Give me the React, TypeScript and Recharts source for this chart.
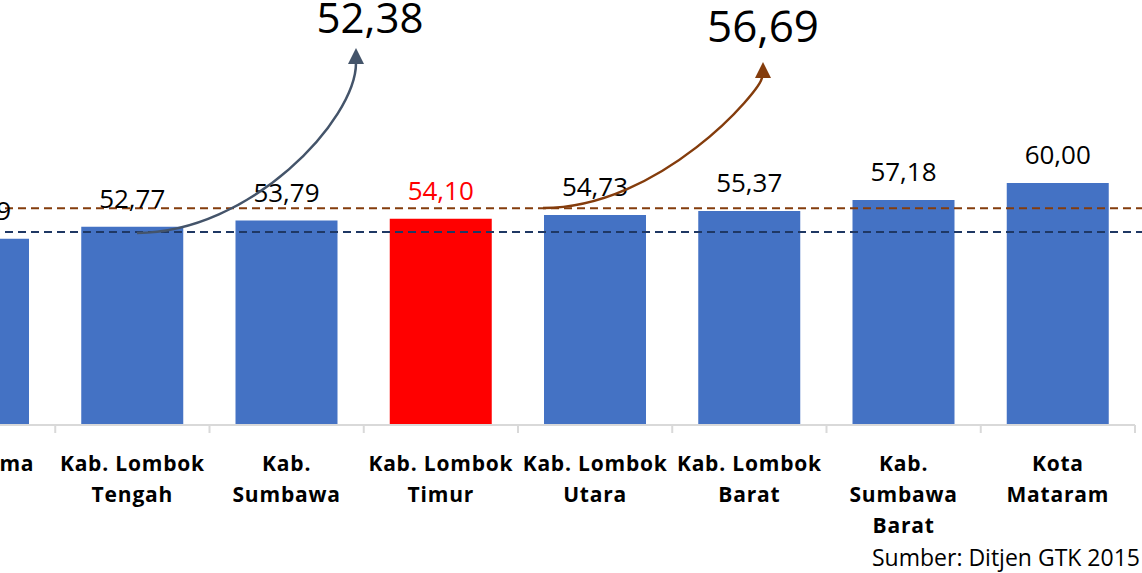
import React from 'react';
import { BarChart, Bar, XAxis, YAxis, Cell, LabelList, ReferenceLine } from 'recharts';

const categories = [
  'Kab. Bima',
  'Kab. Lombok\nTengah',
  'Kab.\nSumbawa',
  'Kab. Lombok\nTimur',
  'Kab. Lombok\nUtara',
  'Kab. Lombok\nBarat',
  'Kab.\nSumbawa\nBarat',
  'Kota\nMataram',
];
const values = [50.79, 52.77, 53.79, 54.1, 54.73, 55.37, 57.18, 60.0];
const highlightCategory = 'Kab. Lombok\nTimur';
const guideValues = [51.9, 55.82];
const guideColors = ['#1f3864', '#843c0c'];
const guideLabels = ['52,38', '56,69'];
const sourceText = 'Sumber: Ditjen GTK 2015';

const data = categories.map((name, i) => ({ name, value: values[i] }));

const FONT = '"Open Sans", "Noto Sans", sans-serif';
const fmt = (v: number) => v.toFixed(2).replace('.', ',');

const CHART_W = 1241;
const MARGIN = { top: 183, right: 7, bottom: 28, left: 0 };
const SLOT = (CHART_W - MARGIN.left - MARGIN.right) / categories.length;

const CategoryTick = (props: any) => {
  const { x, y, payload, index } = props;
  const lines = String(payload.value).split('\n');
  const axisY = y - 10;
  const isLast = index === categories.length - 1;
  return (
    <g>
      <line x1={x - SLOT / 2} x2={x - SLOT / 2} y1={axisY} y2={axisY + 8} stroke="#d9d9d9" strokeWidth={2} />
      {isLast && (
        <line x1={x + SLOT / 2} x2={x + SLOT / 2} y1={axisY} y2={axisY + 8} stroke="#d9d9d9" strokeWidth={2} />
      )}
      {lines.map((ln: string, i: number) => (
        <text
          key={i}
          x={x}
          y={y + 36 + i * 31}
          textAnchor="middle"
          fontFamily={FONT}
          fontWeight={700}
          fontSize={21}
          letterSpacing={0.8}
          fill="#000"
        >
          {ln}
        </text>
      ))}
    </g>
  );
};

const ValueLabel = (props: any) => {
  const { x, y, width, value, index } = props;
  const red = categories[index] === highlightCategory;
  return (
    <text
      x={x + width / 2}
      y={y - 19}
      textAnchor="middle"
      fontFamily={FONT}
      fontSize={26}
      fill={red ? '#ff0000' : '#000'}
    >
      {fmt(value)}
    </text>
  );
};

const dashedShape = (color: string) => (p: any) => (
  <line
    x1={p.x1}
    x2={p.x2 + 10}
    y1={p.y1}
    y2={p.y2}
    stroke={color}
    strokeWidth={2}
    strokeDasharray="8 5"
  />
);

export default function App() {
  return (
    <div
      style={{
        position: 'absolute',
        left: 0,
        top: 0,
        width: 1142,
        height: 573,
        overflow: 'hidden',
        background: '#fff',
      }}
    >
      <div style={{ position: 'absolute', left: -99, top: 0 }}>
        <BarChart width={CHART_W} height={573} data={data} margin={MARGIN}>
          <YAxis hide domain={[20, 60]} allowDataOverflow />
          <XAxis
            dataKey="name"
            height={120}
            interval={0}
            tickLine={false}
            tickSize={8}
            tickMargin={2}
            axisLine={{ stroke: '#d9d9d9', strokeWidth: 2 }}
            tick={<CategoryTick />}
          />
          {guideValues.map((v, i) => (
            <ReferenceLine key={i} y={v} shape={dashedShape(guideColors[i])} />
          ))}
          <Bar dataKey="value" barSize={102} isAnimationActive={false}>
            {data.map((d, i) => (
              <Cell key={i} fill={d.name === highlightCategory ? '#ff0000' : '#4472c4'} />
            ))}
            <LabelList dataKey="value" content={<ValueLabel />} />
          </Bar>
        </BarChart>
      </div>
      <svg
        width={1142}
        height={573}
        style={{ position: 'absolute', left: 0, top: 0, pointerEvents: 'none' }}
      >
        <path d="M137,233 C250,233 356,120 356,63" fill="none" stroke="#44546a" strokeWidth={2.5} />
        <polygon points="356,48 348,64 364,64" fill="#44546a" />
        <path d="M543,208 C660,208 762,90 762,77" fill="none" stroke="#843c0c" strokeWidth={2.5} />
        <polygon points="763,62 755,78 771,78" fill="#843c0c" />
        <text x={370} y={33} textAnchor="middle" fontFamily={FONT} fontSize={42} fill="#000">
          {guideLabels[0]}
        </text>
        <text x={763} y={42} textAnchor="middle" fontFamily={FONT} fontSize={44} fill="#000">
          {guideLabels[1]}
        </text>
        <text x={872} y={566} fontFamily={FONT} fontSize={23} fill="#000">
          {sourceText}
        </text>
      </svg>
    </div>
  );
}
